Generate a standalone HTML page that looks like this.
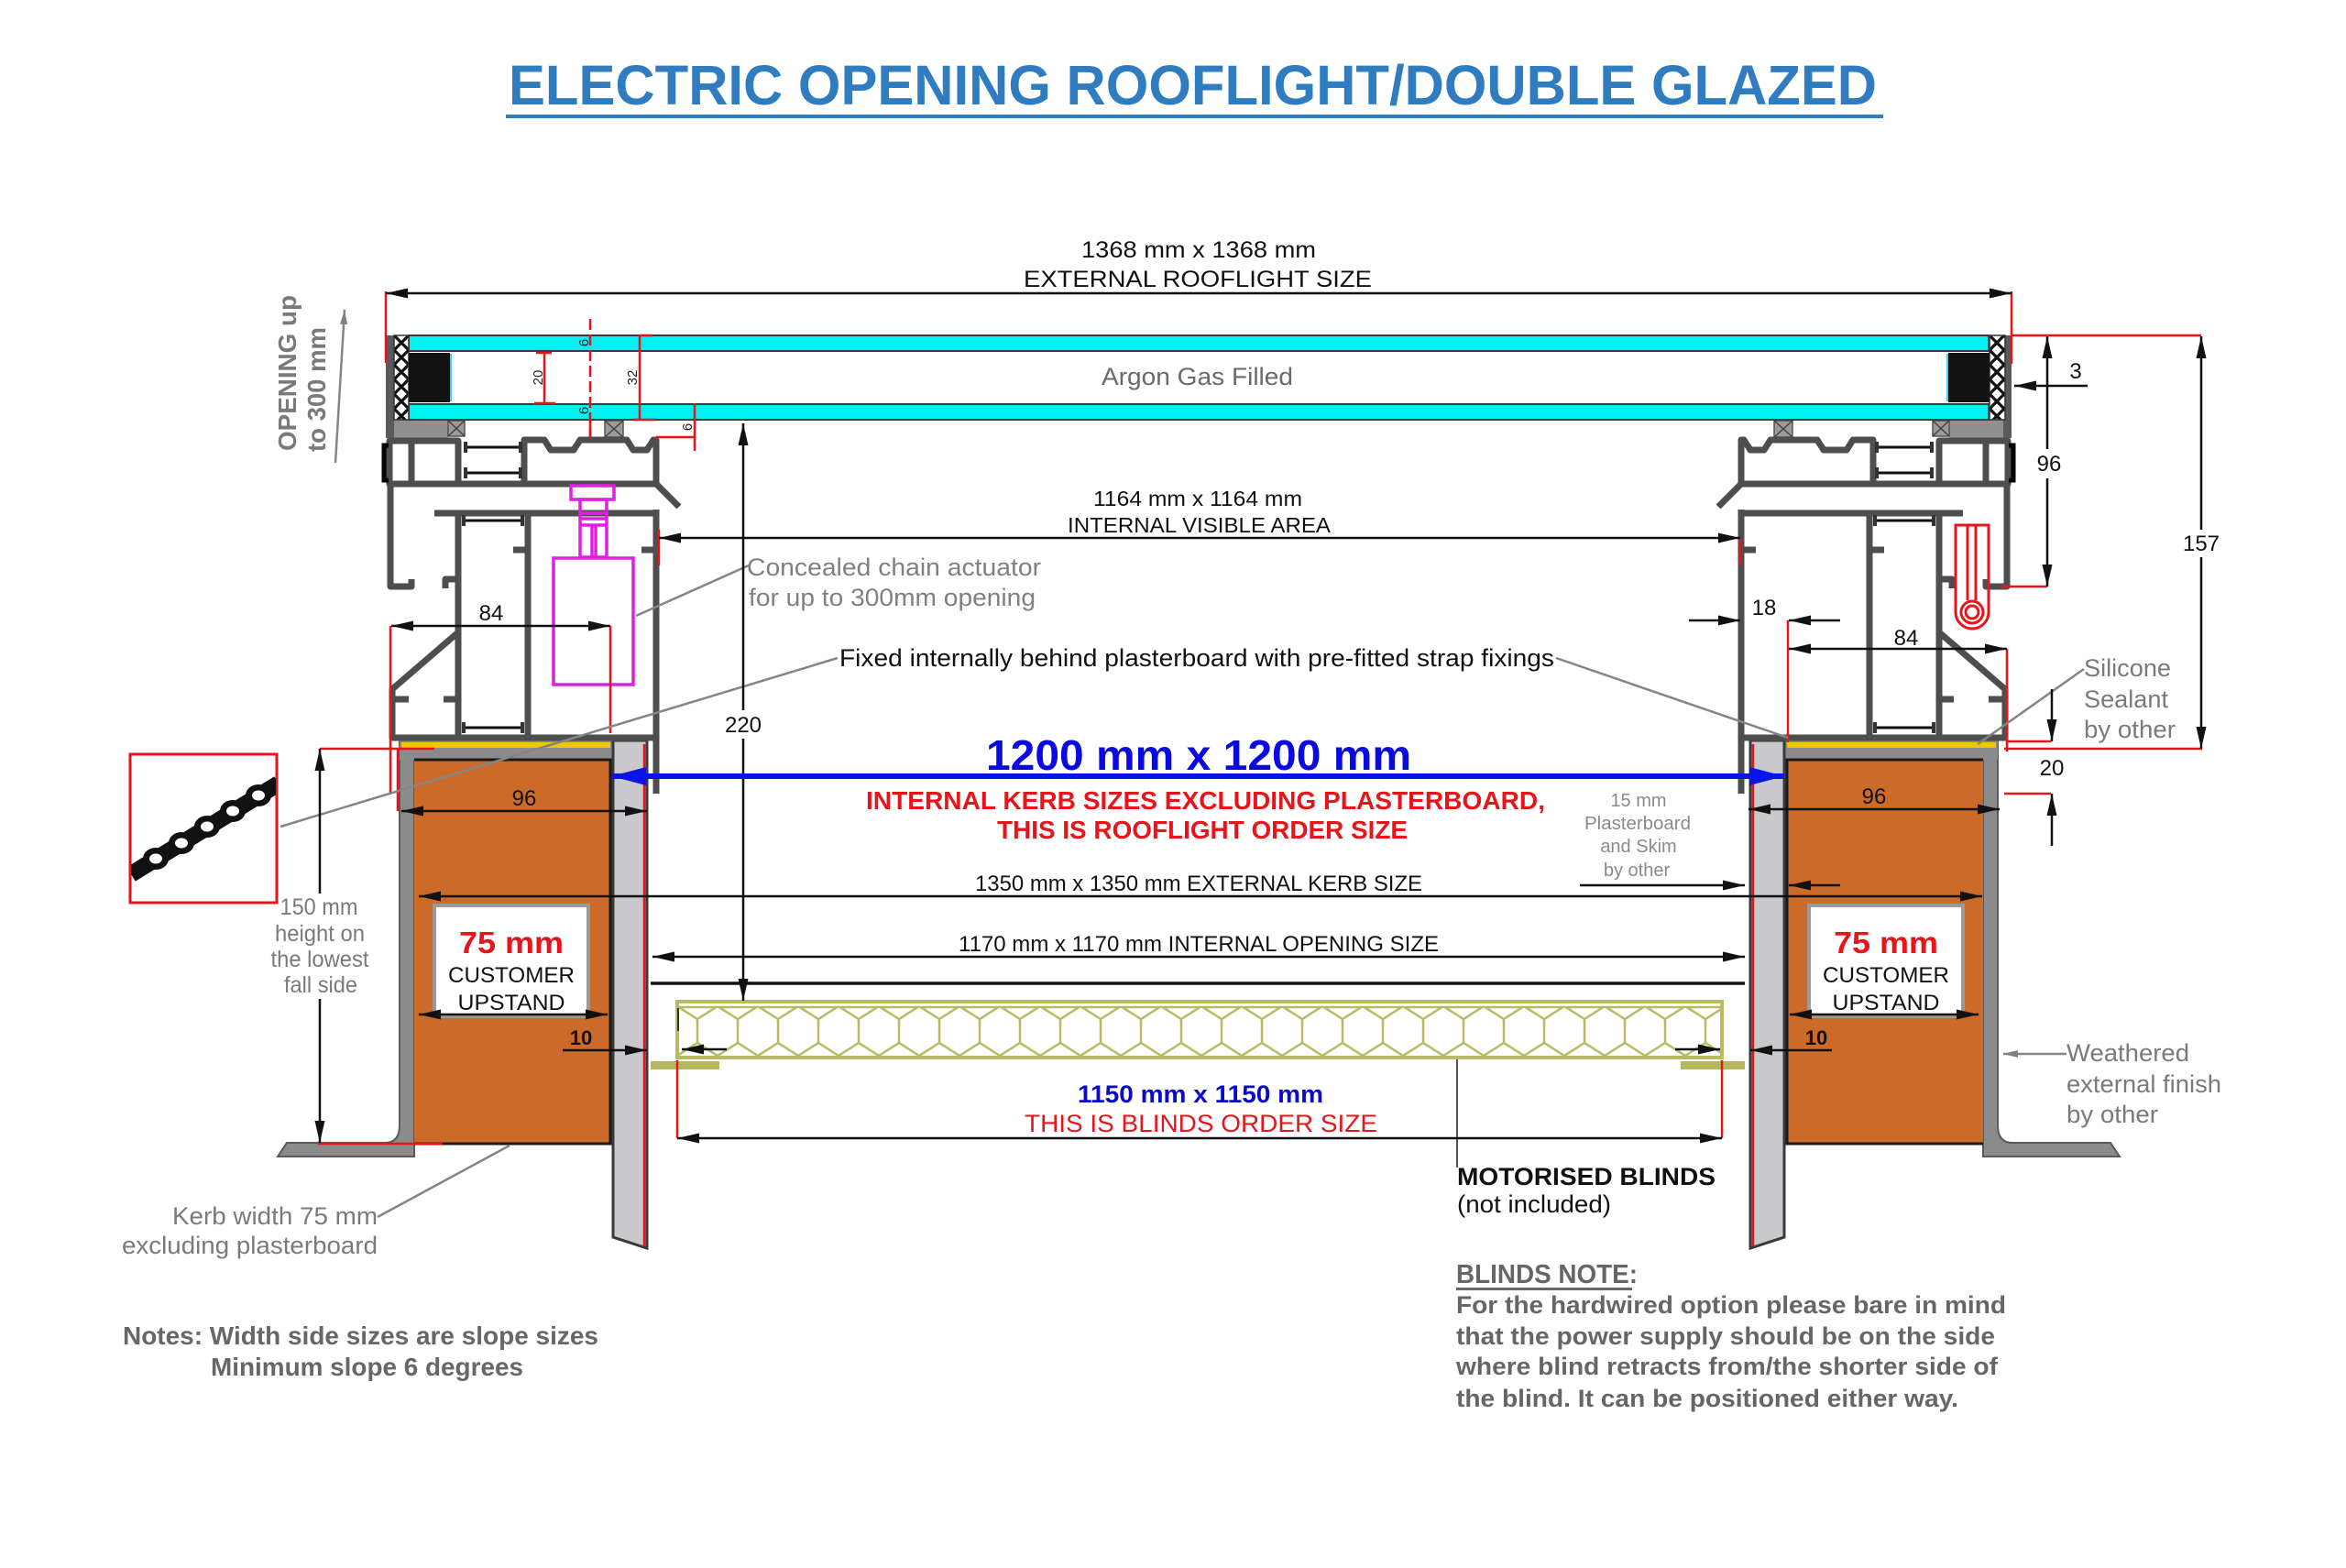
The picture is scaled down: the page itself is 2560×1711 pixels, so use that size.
<!DOCTYPE html>
<html><head><meta charset="utf-8">
<style>
html,body{margin:0;padding:0;background:#fff;}
svg{display:block;}
text{font-family:"Liberation Sans",Arial,sans-serif;}
</style></head><body>
<svg width="2560" height="1711" viewBox="0 0 2560 1711" xmlns="http://www.w3.org/2000/svg">
<defs>
<marker id="ab" markerUnits="userSpaceOnUse" markerWidth="26" markerHeight="12" refX="24" refY="6" orient="auto-start-reverse"><path d="M0,0.5 L24,6 L0,11.5 Z" fill="#111"/></marker>
<marker id="abl" markerUnits="userSpaceOnUse" markerWidth="40" markerHeight="20" refX="38" refY="10" orient="auto-start-reverse"><path d="M0,0 L38,10 L0,20 Z" fill="#0a14e6"/></marker>
<marker id="ag" markerUnits="userSpaceOnUse" markerWidth="18" markerHeight="10" refX="16" refY="5" orient="auto-start-reverse"><path d="M0,1 L16,5 L0,9 Z" fill="#808080"/></marker>
<pattern id="hex" patternUnits="userSpaceOnUse" x="739" y="1098" width="44" height="54"><path d="M0,0 L22,14 L44,0 M22,14 L22,40 M0,54 L22,40 L44,54" fill="none" stroke="#b8bb64" stroke-width="2.5"/></pattern>
<pattern id="xh" patternUnits="userSpaceOnUse" x="430" y="366" width="16" height="16"><rect width="16" height="16" fill="#fff"/><path d="M0,0 L16,16 M16,0 L0,16" stroke="#111" stroke-width="3.2"/></pattern>
<pattern id="xh2" patternUnits="userSpaceOnUse" x="2171" y="366" width="16" height="16"><rect width="16" height="16" fill="#fff"/><path d="M0,0 L16,16 M16,0 L0,16" stroke="#111" stroke-width="3.2"/></pattern>
<clipPath id="boxclip"><rect x="143" y="824" width="158" height="160"/></clipPath>
</defs>

<rect width="2560" height="1711" fill="#fff"/>

<!-- TITLE -->
<text x="555" y="114" font-size="61" font-weight="bold" fill="#2f7cc0" textLength="1493" lengthAdjust="spacingAndGlyphs">ELECTRIC OPENING ROOFLIGHT/DOUBLE GLAZED</text>
<rect x="552" y="125" width="1503" height="4" fill="#2f7cc0"/>

<!-- KERB (left, mirrored for right) -->
<g id="kb">
 <path d="M436 808 L452 808 L452 1262 L303 1262 L313 1247 L420 1247 Q436 1247 436 1228 Z" fill="#8b8b8b" stroke="#5a5a5a" stroke-width="2"/>
 <rect x="436" y="808" width="233" height="21" fill="#8b8b8b"/>
 <rect x="452" y="829" width="214" height="419" fill="#cc6a2a"/>
 <path d="M452 829 L666 829 L666 1248 L452 1248" fill="none" stroke="#1a1a1a" stroke-width="3"/>
 <path d="M669 808 L706 808 L706 1362 L669 1350 Z" fill="#c9c9cd" stroke="#3a3a3a" stroke-width="3"/>
 <line x1="703" y1="812" x2="703" y2="1360" stroke="#e8141c" stroke-width="2.5"/>
 <rect x="438" y="810" width="228" height="6" fill="#f2c500"/>
 <rect x="474" y="988" width="168" height="121" fill="#fff" stroke="#9a9a9a" stroke-width="4"/>
</g>
<use href="#kb" transform="translate(2616 0) scale(-1 1)"/>

<!-- FRAME (left, mirrored for right) -->
<g id="fr">
 <rect x="421" y="366" width="9" height="112" fill="#5a5a5a"/>
 <rect x="430" y="458" width="59" height="20" fill="#8f8f8f"/>
 <rect x="489" y="459" width="18" height="17" fill="#9a9a9a" stroke="#555" stroke-width="1.5"/>
 <path d="M489 459 L507 476 M507 459 L489 476" stroke="#444" stroke-width="1.5"/>
 <rect x="660" y="459" width="20" height="18" fill="#9a9a9a" stroke="#555" stroke-width="1.5"/>
 <path d="M660 459 L680 477 M680 459 L660 477" stroke="#444" stroke-width="1.5"/>
 <g fill="none" stroke="#4e4e4e" stroke-width="7" stroke-linejoin="round">
  <rect x="425" y="481" width="75" height="47"/>
  <line x1="449" y1="481" x2="449" y2="528"/>
  <path d="M572 528 L572 480 L594 480 L601 491 L626 491 L633 480 L684 480 L691 491 L706 491 L713 480 L716 480 L716 528 Z"/>
  <path d="M500 528 L572 528"/>
  <path d="M716 528 L741 553"/>
  <path d="M474 560 L716 560"/>
  <path d="M500 560 L500 805"/>
  <path d="M576 560 L576 805"/>
  <path d="M716 556 L716 866"/>
  <path d="M426 528 L426 640 L449 640 L449 632"/>
  <path d="M500 632 L486 632 L486 642"/>
  <path d="M500 690 L428 752 L428 805 L716 805"/>
  <path d="M428 763 L446 763 M484 763 L500 763 M700 600 L716 600 M560 600 L576 600"/>
 </g>
 <path d="M508 488 L568 488 M508 516 L568 516 M506 568 L570 568 M506 794 L570 794" stroke="#111" stroke-width="3"/>
 <path d="M508 482 V494 M568 482 V494 M508 510 V522 M568 510 V522 M506 562 V574 M570 562 V574 M506 788 V800 M570 788 V800" stroke="#333" stroke-width="4"/>
 <path d="M424 486 L419 486 L419 524 L424 524" fill="none" stroke="#000" stroke-width="5"/>
</g>
<use href="#fr" transform="translate(2616 0) scale(-1 1)"/>

<!-- GLASS -->
<rect x="446" y="366" width="1724" height="17" fill="#00f2f2" stroke="#3b3b3b" stroke-width="2"/>
<rect x="446" y="441" width="1724" height="17" fill="#00f2f2" stroke="#3b3b3b" stroke-width="2"/>
<rect x="430" y="366" width="16" height="92" fill="url(#xh)" stroke="#333" stroke-width="1.5"/>
<rect x="2171" y="366" width="17" height="92" fill="url(#xh2)" stroke="#333" stroke-width="1.5"/>
<rect x="446" y="385" width="45" height="54" fill="#111"/>
<line x1="492" y1="386" x2="492" y2="438" stroke="#3fd0f0" stroke-width="2"/>
<rect x="2126" y="385" width="45" height="54" fill="#111"/>
<line x1="2125" y1="386" x2="2125" y2="438" stroke="#3fd0f0" stroke-width="2"/>
<text x="1202" y="420" font-size="27" fill="#6a6a6a" textLength="209" lengthAdjust="spacingAndGlyphs">Argon Gas Filled</text>

<!-- ACTUATOR (magenta) -->
<g fill="none" stroke="#e020e0" stroke-width="3.5">
 <rect x="623" y="530" width="47" height="15"/>
 <rect x="633" y="545" width="29" height="63"/>
 <path d="M633 560 H662 M633 566 H662 M633 573 H662 M646 573 V608 M650 573 V608"/>
 <rect x="604" y="609" width="87" height="138"/>
</g>

<!-- RIGHT red bracket -->
<g fill="none" stroke="#e8141c" stroke-width="3">
 <path d="M2134 573 L2170 573 L2170 668 A18 18 0 0 1 2134 668 Z"/>
 <path d="M2147 573 V655 M2156 573 V655"/>
 <circle cx="2152" cy="668" r="12"/>
 <circle cx="2152" cy="668" r="7"/>
</g>

<!-- BLIND -->
<rect x="739" y="1098" width="1140" height="54" fill="url(#hex)"/>
<rect x="739" y="1093" width="1140" height="61" fill="none" stroke="#b8bb64" stroke-width="4"/>
<line x1="739" y1="1099" x2="1879" y2="1099" stroke="#b8bb64" stroke-width="2.5"/>
<rect x="710" y="1158" width="75" height="9" fill="#b5b860"/>
<rect x="1834" y="1158" width="70" height="9" fill="#b5b860"/>
<line x1="740" y1="1100" x2="740" y2="1125" stroke="#333" stroke-width="2"/>

<!-- RED EXTENSION LINES -->
<g fill="none" stroke="#e8141c" stroke-width="2.5">
 <path d="M421 318 V396 M2195 318 V397 M2196 366 H2402 M2183 640 H2234 M2187 817 H2403 M2190 809 H2238 M2187 866 H2238"/>
 <path d="M426 683 V867 M666 683 V800 M434 817 V885 M349 817 H474"/>
 <path d="M1951 677 V810 M2190 708 V820 M719 578 V617 M1899 587 V617"/>
 <path d="M739 1157 V1242 M1879 1157 V1242 M347 1248 H483"/>
 <path d="M594 385 V440 M585 385 H602 M583 440 H606 M698 366 V458 M698 366 H712 M690 458 H716 M716 477 H758 M758 440 V492 M644 458 V477"/>
 <path d="M644 348 V478" stroke-dasharray="12 5"/>
</g>
<g font-size="15" fill="#222" text-anchor="middle">
 <text transform="translate(642,374) rotate(-90)">6</text>
 <text transform="translate(592,412) rotate(-90)">20</text>
 <text transform="translate(695,412) rotate(-90)">32</text>
 <text transform="translate(642,448) rotate(-90)">6</text>
 <text transform="translate(755,466) rotate(-90)">6</text>
</g>

<!-- STRAP ICON -->
<rect x="142" y="823" width="160" height="162" fill="#fff" stroke="#e8141c" stroke-width="3"/>
<g clip-path="url(#boxclip)">
 <line x1="143" y1="954" x2="304" y2="855" stroke="#111" stroke-width="18"/>
 <g fill="#111">
  <ellipse cx="170" cy="937" rx="14" ry="12"/><ellipse cx="198" cy="920" rx="14" ry="12"/><ellipse cx="226" cy="902" rx="14" ry="12"/>
  <ellipse cx="254" cy="885" rx="14" ry="12"/><ellipse cx="282" cy="868" rx="14" ry="12"/>
 </g>
 <g fill="#fff">
  <ellipse cx="170" cy="937" rx="7" ry="5.5"/><ellipse cx="198" cy="920" rx="7" ry="5.5"/><ellipse cx="226" cy="902" rx="7" ry="5.5"/>
  <ellipse cx="254" cy="885" rx="7" ry="5.5"/><ellipse cx="282" cy="868" rx="7" ry="5.5"/>
 </g>
</g>

<!-- GRAY LEADERS -->
<g fill="none" stroke="#858585" stroke-width="2.5">
 <path d="M694 672 L817 617"/>
 <path d="M306 902 L914 718"/>
 <path d="M1698 718 L1951 805"/>
 <path d="M2274 730 L2158 812"/>
 <path d="M412 1328 L556 1250"/>
 <path d="M2255 1150 H2186" marker-end="url(#ag)"/>
 <path d="M366 505 L376 338" marker-end="url(#ag)"/>
</g>
<line x1="1590" y1="1156" x2="1590" y2="1274" stroke="#555" stroke-width="2"/>

<!-- BLACK DIMENSION LINES -->
<g fill="none" stroke="#111" stroke-width="2.5">
 <path d="M421 320 H2195" marker-start="url(#ab)" marker-end="url(#ab)"/>
 <path d="M719 587 H1899" marker-start="url(#ab)" marker-end="url(#ab)"/>
 <path d="M811 775 V462" marker-end="url(#ab)"/>
 <path d="M811 806 V1092" marker-end="url(#ab)"/>
 <path d="M457 978 H2163" marker-start="url(#ab)" marker-end="url(#ab)"/>
 <path d="M712 1044 H1904" marker-start="url(#ab)" marker-end="url(#ab)"/>
 <path d="M710 1073 H1904" stroke-width="3.5"/>
 <path d="M739 1242 H1879" marker-start="url(#ab)" marker-end="url(#ab)"/>
 <path d="M457 1107 H663" marker-start="url(#ab)" marker-end="url(#ab)"/>
 <path d="M1953 1107 H2159" marker-start="url(#ab)" marker-end="url(#ab)"/>
 <path d="M427 683 H666" marker-start="url(#ab)" marker-end="url(#ab)"/>
 <path d="M438 885 H706" marker-start="url(#ab)" marker-end="url(#ab)"/>
 <path d="M1952 708 H2190" marker-start="url(#ab)" marker-end="url(#ab)"/>
 <path d="M1908 883 H2182" marker-start="url(#ab)" marker-end="url(#ab)"/>
 <path d="M1843 677 H1899" marker-end="url(#ab)"/>
 <path d="M2008 677 H1952" marker-end="url(#ab)"/>
 <path d="M1724 966 H1904" marker-end="url(#ab)"/>
 <path d="M2008 966 H1952" marker-end="url(#ab)"/>
 <path d="M614 1146 H706" marker-end="url(#ab)"/>
 <path d="M1999 1146 H1910" marker-end="url(#ab)"/>
 <path d="M793 1145 H744" marker-end="url(#ab)"/>
 <path d="M1828 1145 H1877" marker-end="url(#ab)"/>
 <path d="M349 975 V817" marker-end="url(#ab)"/>
 <path d="M349 1090 V1247" marker-end="url(#ab)"/>
 <path d="M2278 421 H2198" marker-end="url(#ab)"/>
 <path d="M2234 490 V367" marker-end="url(#ab)"/>
 <path d="M2234 522 V640" marker-end="url(#ab)"/>
 <path d="M2402 578 V367" marker-end="url(#ab)"/>
 <path d="M2402 608 V817" marker-end="url(#ab)"/>
 <path d="M2239 752 V809" marker-end="url(#ab)"/>
 <path d="M2239 923 V866" marker-end="url(#ab)"/>
</g>
<path d="M667 847 H1947" stroke="#0a14e6" stroke-width="6" fill="none" marker-start="url(#abl)" marker-end="url(#abl)"/>

<!-- DIMENSION NUMBERS -->
<g font-size="24" fill="#111" text-anchor="middle">
 <text x="536" y="677">84</text>
 <text x="572" y="879">96</text>
 <text x="2080" y="704">84</text>
 <text x="2045" y="877">96</text>
 <text x="1925" y="671">18</text>
 <text x="2239" y="846">20</text>
 <text x="2265" y="413">3</text>
 <text x="2236" y="514">96</text>
 <text x="2402" y="601">157</text>
 <text x="811" y="799">220</text>
</g>
<g font-size="22" font-weight="bold" fill="#111" text-anchor="middle">
 <text x="634" y="1140">10</text>
 <text x="1982" y="1140">10</text>
</g>

<!-- MAIN LABELS -->
<g fill="#111">
 <text x="1180" y="281" font-size="25" textLength="256" lengthAdjust="spacingAndGlyphs">1368 mm x 1368 mm</text>
 <text x="1117" y="313" font-size="25" textLength="380" lengthAdjust="spacingAndGlyphs">EXTERNAL ROOFLIGHT SIZE</text>
 <text x="1193" y="552" font-size="23" textLength="228" lengthAdjust="spacingAndGlyphs">1164 mm x 1164 mm</text>
 <text x="1165" y="581" font-size="23" textLength="287" lengthAdjust="spacingAndGlyphs">INTERNAL VISIBLE AREA</text>
 <text x="916" y="727" font-size="27" textLength="780" lengthAdjust="spacingAndGlyphs">Fixed internally behind plasterboard with pre-fitted strap fixings</text>
 <text x="1064" y="972" font-size="24" textLength="488" lengthAdjust="spacingAndGlyphs">1350 mm x 1350 mm EXTERNAL KERB SIZE</text>
 <text x="1046" y="1038" font-size="24" textLength="524" lengthAdjust="spacingAndGlyphs">1170 mm x 1170 mm INTERNAL OPENING SIZE</text>
 <text x="1590" y="1293" font-size="27" font-weight="bold" textLength="282" lengthAdjust="spacingAndGlyphs">MOTORISED BLINDS</text>
 <text x="1590" y="1323" font-size="27" textLength="168" lengthAdjust="spacingAndGlyphs">(not included)</text>
</g>
<text x="815" y="628" font-size="27" fill="#808080" textLength="321" lengthAdjust="spacingAndGlyphs">Concealed chain actuator</text>
<text x="817" y="661" font-size="27" fill="#808080" textLength="313" lengthAdjust="spacingAndGlyphs">for up to 300mm opening</text>

<text x="1076" y="840" font-size="46" font-weight="bold" fill="#0a0ae0" textLength="464" lengthAdjust="spacingAndGlyphs">1200 mm x 1200 mm</text>
<text x="945" y="883" font-size="28" font-weight="bold" fill="#e8141c" textLength="741" lengthAdjust="spacingAndGlyphs">INTERNAL KERB SIZES EXCLUDING PLASTERBOARD,</text>
<text x="1088" y="915" font-size="28" font-weight="bold" fill="#e8141c" textLength="448" lengthAdjust="spacingAndGlyphs">THIS IS ROOFLIGHT ORDER SIZE</text>

<g font-size="20" fill="#8a8a8a" text-anchor="middle">
 <text x="1788" y="880">15 mm</text>
 <text x="1787" y="905" textLength="116" lengthAdjust="spacingAndGlyphs">Plasterboard</text>
 <text x="1788" y="930">and Skim</text>
 <text x="1786" y="956">by other</text>
</g>

<text x="1176" y="1203" font-size="27" font-weight="bold" fill="#0a0acc" textLength="268" lengthAdjust="spacingAndGlyphs">1150 mm x 1150 mm</text>
<text x="1118" y="1235" font-size="27" fill="#e8141c" textLength="385" lengthAdjust="spacingAndGlyphs">THIS IS BLINDS ORDER SIZE</text>

<!-- Customer upstand boxes -->
<g text-anchor="middle">
 <text x="558" y="1040" font-size="33" font-weight="bold" fill="#e8141c" textLength="114" lengthAdjust="spacingAndGlyphs">75 mm</text>
 <text x="558" y="1072" font-size="24" fill="#111" textLength="138" lengthAdjust="spacingAndGlyphs">CUSTOMER</text>
 <text x="558" y="1102" font-size="24" fill="#111" textLength="117" lengthAdjust="spacingAndGlyphs">UPSTAND</text>
 <text x="2058" y="1040" font-size="33" font-weight="bold" fill="#e8141c" textLength="114" lengthAdjust="spacingAndGlyphs">75 mm</text>
 <text x="2058" y="1072" font-size="24" fill="#111" textLength="138" lengthAdjust="spacingAndGlyphs">CUSTOMER</text>
 <text x="2058" y="1102" font-size="24" fill="#111" textLength="117" lengthAdjust="spacingAndGlyphs">UPSTAND</text>
</g>

<!-- Side gray labels -->
<g font-size="25" fill="#7a7a7a" text-anchor="middle">
 <text x="348" y="998" textLength="85" lengthAdjust="spacingAndGlyphs">150 mm</text>
 <text x="349" y="1027" textLength="98" lengthAdjust="spacingAndGlyphs">height on</text>
 <text x="349" y="1055" textLength="107" lengthAdjust="spacingAndGlyphs">the lowest</text>
 <text x="350" y="1083" textLength="80" lengthAdjust="spacingAndGlyphs">fall side</text>
</g>
<g font-size="27" fill="#7a7a7a">
 <text x="2274" y="738" textLength="95" lengthAdjust="spacingAndGlyphs">Silicone</text>
 <text x="2274" y="772" textLength="92" lengthAdjust="spacingAndGlyphs">Sealant</text>
 <text x="2274" y="805" textLength="100" lengthAdjust="spacingAndGlyphs">by other</text>
 <text x="2255" y="1158" textLength="134" lengthAdjust="spacingAndGlyphs">Weathered</text>
 <text x="2255" y="1192" textLength="169" lengthAdjust="spacingAndGlyphs">external finish</text>
 <text x="2255" y="1225" textLength="100" lengthAdjust="spacingAndGlyphs">by other</text>
 <text x="188" y="1336" textLength="224" lengthAdjust="spacingAndGlyphs">Kerb width 75 mm</text>
 <text x="133" y="1368" textLength="279" lengthAdjust="spacingAndGlyphs">excluding plasterboard</text>
</g>

<!-- OPENING rotated -->
<g font-size="28" font-weight="bold" fill="#7a7a7a" text-anchor="middle">
 <text transform="translate(323,407) rotate(-90)" textLength="170" lengthAdjust="spacingAndGlyphs">OPENING up</text>
 <text transform="translate(355,425) rotate(-90)" textLength="136" lengthAdjust="spacingAndGlyphs">to 300 mm</text>
</g>

<!-- NOTES -->
<g font-size="28" font-weight="bold" fill="#676767">
 <text x="134" y="1467" textLength="519" lengthAdjust="spacingAndGlyphs">Notes: Width side sizes are slope sizes</text>
 <text x="230" y="1501" textLength="341" lengthAdjust="spacingAndGlyphs">Minimum slope 6 degrees</text>
</g>
<g font-size="27" font-weight="bold" fill="#666">
 <text x="1589" y="1400" font-size="29" textLength="198" lengthAdjust="spacingAndGlyphs">BLINDS NOTE:</text>
 <text x="1589" y="1433" textLength="600" lengthAdjust="spacingAndGlyphs">For the hardwired option please bare in mind</text>
 <text x="1589" y="1467" textLength="588" lengthAdjust="spacingAndGlyphs">that the power supply should be on the side</text>
 <text x="1589" y="1500" textLength="591" lengthAdjust="spacingAndGlyphs">where blind retracts from/the shorter side of</text>
 <text x="1589" y="1535" textLength="548" lengthAdjust="spacingAndGlyphs">the blind. It can be positioned either way.</text>
</g>
<rect x="1589" y="1405" width="192" height="3" fill="#666"/>

</svg>
</body></html>
